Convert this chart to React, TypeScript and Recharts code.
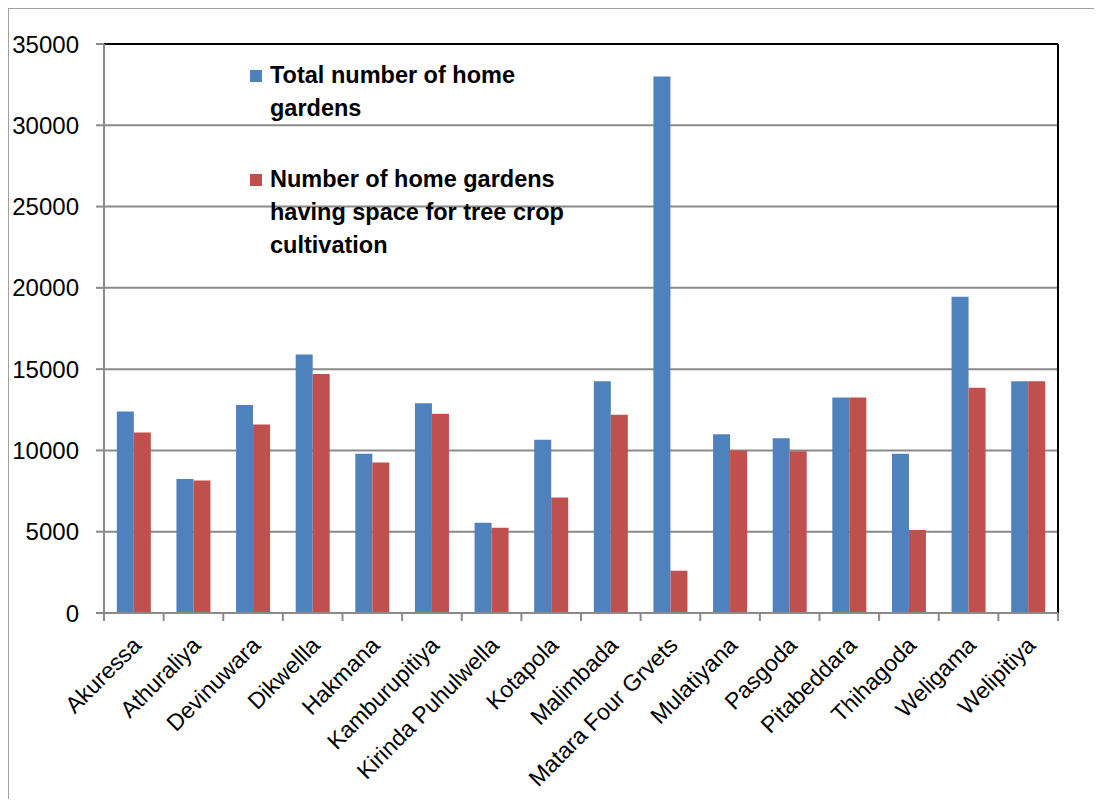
import { Bar, BarChart, CartesianGrid, XAxis, YAxis } from "recharts";

const areas = [
  "Akuressa",
  "Athuraliya",
  "Devinuwara",
  "Dikwellla",
  "Hakmana",
  "Kamburupitiya",
  "Kirinda Puhulwella",
  "Kotapola",
  "Malimbada",
  "Matara Four Grvets",
  "Mulatiyana",
  "Pasgoda",
  "Pitabeddara",
  "Thihagoda",
  "Weligama",
  "Welipitiya",
];

const totalGardens = [
  12400, 8250, 12800, 15900, 9800, 12900, 5550, 10650, 14250, 33000, 11000, 10750, 13250, 9800, 19450, 14250,
];

const treeCropGardens = [
  11100, 8150, 11600, 14700, 9250, 12250, 5250, 7100, 12200, 2600, 10000, 9950, 13250, 5100, 13850, 14250,
];

const yTicks = [0, 5000, 10000, 15000, 20000, 25000, 30000, 35000];

const seriesNames = {
  total: "Total number of home gardens",
  tree: "Number of home gardens having space for tree crop cultivation",
};

const data = areas.map((name, i) => ({
  name,
  total: totalGardens[i],
  tree: treeCropGardens[i],
}));

const BLUE = "#4F81BD";
const RED = "#C0504D";
const GRID = "#8a8a8a";
const FONT = "'Liberation Sans', Arial, sans-serif";

const CHART_W = 1092;
const CHART_H = 790;
const MARGIN = { top: 35, right: 43, left: 0, bottom: 0 };
const Y_AXIS_W = 95;
const BAND = (CHART_W - MARGIN.right - Y_AXIS_W) / areas.length;

function AreaTick(props: any) {
  const { x, y, payload, index } = props;
  const left = x - BAND / 2;
  return (
    <g>
      <line x1={left} y1={y - 8} x2={left} y2={y} stroke={GRID} strokeWidth={2} />
      {index === areas.length - 1 && (
        <line x1={x + BAND / 2} y1={y - 8} x2={x + BAND / 2} y2={y} stroke={GRID} strokeWidth={2} />
      )}
      <text
        transform={`translate(${x + 3}, ${y + 20}) rotate(-45)`}
        textAnchor="end"
        dy="0.35em"
        fontSize={23}
        fontFamily={FONT}
        fill="#000"
      >
        {payload.value}
      </text>
    </g>
  );
}

// legend drawn inside the plot, top-left like the original
function GardenLegend() {
  const entries = [
    { color: BLUE, label: seriesNames.total },
    { color: RED, label: seriesNames.tree },
  ];
  return (
    <div
      style={{
        position: "absolute",
        left: 241,
        top: 50,
        fontFamily: FONT,
        fontWeight: "bold",
        fontSize: 23.5,
        lineHeight: "33px",
        color: "#000",
      }}
    >
      {entries.map((e, i) => (
        <div key={e.label} style={{ display: "flex", alignItems: "flex-start", marginTop: i === 0 ? 0 : 38 }}>
          <span
            style={{ width: 12, height: 12, background: e.color, marginTop: 11, marginRight: 8, flexShrink: 0 }}
          />
          <span style={{ width: 310 }}>{e.label}</span>
        </div>
      ))}
    </div>
  );
}

export default function App() {
  return (
    <div
      style={{
        position: "relative",
        width: CHART_W,
        height: CHART_H,
        borderLeft: "1px solid #a0a0a0",
        borderTop: "1px solid #a0a0a0",
        background: "#fff",
      }}
    >
      <BarChart
        width={CHART_W}
        height={CHART_H}
        data={data}
        margin={MARGIN}
        barGap={0}
        barCategoryGap="21.5%"
      >
        <CartesianGrid vertical={false} stroke={GRID} strokeWidth={2} />
        <CartesianGrid
          stroke="#000"
          strokeWidth={2}
          horizontalCoordinatesGenerator={({ offset }: any) => [offset.top]}
          verticalCoordinatesGenerator={({ offset }: any) => [offset.left + offset.width]}
        />
        <XAxis
          dataKey="name"
          interval={0}
          height={186}
          axisLine={{ stroke: GRID, strokeWidth: 2 }}
          tickLine={false}
          tick={<AreaTick />}
        />
        <YAxis
          width={Y_AXIS_W}
          domain={[0, 35000]}
          ticks={yTicks}
          interval={0}
          axisLine={{ stroke: GRID, strokeWidth: 2 }}
          tickLine={{ stroke: GRID, strokeWidth: 2 }}
          tickSize={8}
          tickMargin={17}
          tick={{ fontSize: 24, fontFamily: FONT, fill: "#000" }}
        />
        <Bar dataKey="total" name={seriesNames.total} fill={BLUE} isAnimationActive={false} />
        <Bar dataKey="tree" name={seriesNames.tree} fill={RED} isAnimationActive={false} />
      </BarChart>
      <GardenLegend />
    </div>
  );
}
